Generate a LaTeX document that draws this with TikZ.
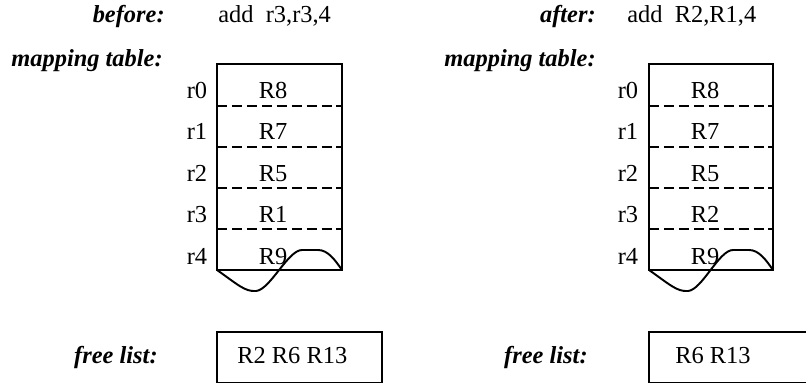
\documentclass[tikz,border=0pt]{standalone}
\usepackage{fontspec}
\setmainfont{Liberation Serif}

\begin{document}
\begin{tikzpicture}[x=0.02cm,y=-0.02cm,font=\fontsize{13.9}{16}\selectfont,
  lbl/.style={font=\fontsize{13.9}{16}\selectfont\bfseries\itshape,anchor=base east,inner sep=0pt},
  txt/.style={anchor=base,inner sep=0pt},
  frame/.style={line width=1.1pt},
  sep/.style={line width=1pt,dash pattern=on 5.7pt off 2.8pt}]
\clip (0,0) rectangle (806,384);

% before
\node[lbl] (before) at (165,23) {before:};
\node[txt,anchor=base west] (instrA) at (218,23) {add\ \ r3,r3,4};
\node[lbl] (mapA) at (163,67) {mapping table:};
\draw[frame] (217,64) rectangle (342,270);
\draw[sep] (217,106) -- (342,106);
\draw[sep] (217,147) -- (342,147);
\draw[sep] (217,188) -- (342,188);
\draw[sep] (217,229) -- (342,229);
\draw[frame] (217,270) .. controls (237,284) and (245,292) .. (256,291)
  .. controls (270,290) and (288,250) .. (302,250) -- (318,250)
  .. controls (328,250) and (335,260) .. (342,270);
\node[txt] (regA0) at (197,98.5) {r0};
\node[txt] (regA1) at (197,140) {r1};
\node[txt] (regA2) at (197,181.5) {r2};
\node[txt] (regA3) at (197,223) {r3};
\node[txt] (regA4) at (197,264.5) {r4};
\node[txt] (physA0) at (273,98.5) {R8};
\node[txt] (physA1) at (273,140) {R7};
\node[txt] (physA2) at (273,181.5) {R5};
\node[txt] (physA3) at (273,223) {R1};
\node[txt] (physA4) at (273,264.5) {R9};
\node[lbl] (freeA) at (158,364) {free list:};
\draw[frame] (217,332) rectangle (382,382.5);
\node[txt,anchor=base west] (listA) at (237,364) {R2 R6 R13};

% after
\node[lbl] (after) at (596,23) {after:};
\node[txt,anchor=base west] (instrB) at (627,23) {add\ \ R2,R1,4};
\node[lbl] (mapB) at (596,67) {mapping table:};
\draw[frame] (649,64) rectangle (773,270);
\draw[sep] (649,106) -- (773,106);
\draw[sep] (649,147) -- (773,147);
\draw[sep] (649,188) -- (773,188);
\draw[sep] (649,229) -- (773,229);
\draw[frame] (649,270) .. controls (669,284) and (677,292) .. (688,291)
  .. controls (702,290) and (719,250) .. (733,250) -- (749,250)
  .. controls (759,250) and (766,260) .. (773,270);
\node[txt] (regB0) at (628,98.5) {r0};
\node[txt] (regB1) at (628,140) {r1};
\node[txt] (regB2) at (628,181.5) {r2};
\node[txt] (regB3) at (628,223) {r3};
\node[txt] (regB4) at (628,264.5) {r4};
\node[txt] (physB0) at (705,98.5) {R8};
\node[txt] (physB1) at (705,140) {R7};
\node[txt] (physB2) at (705,181.5) {R5};
\node[txt] (physB3) at (705,223) {R2};
\node[txt] (physB4) at (705,264.5) {R9};
\node[lbl] (freeB) at (588,364) {free list:};
\draw[frame] (815,332) -- (649,332) -- (649,382.5) -- (815,382.5);
\node[txt,anchor=base west] (listB) at (675,364) {R6 R13};
\end{tikzpicture}
\end{document}
